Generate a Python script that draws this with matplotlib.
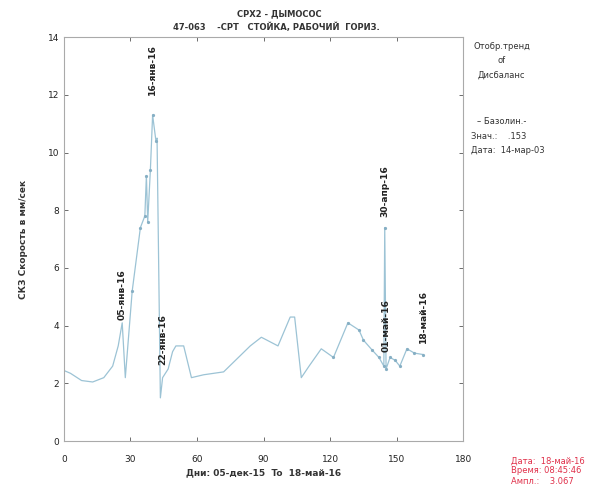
import matplotlib
matplotlib.use("Agg")
import matplotlib.pyplot as plt

plt.rcParams['font.family'] = ['DejaVu Sans']

# data (day index from start, velocity mm/s)
days = [0, 3, 8, 13, 18, 22, 24.5, 26.3, 27.7, 30.8, 34.5, 36.5, 37.2, 37.8, 39, 40,
        41.5, 42, 43.5, 44.5, 47, 49, 50.5, 54, 57.5, 63, 72, 80, 84, 89, 96.5, 102,
        104, 107, 110.5, 116, 121.5, 128, 133, 135, 139, 142, 144.2, 144.6, 145.2,
        147, 149.3, 151.4, 154.6, 158, 162]
values = [2.45, 2.35, 2.1, 2.05, 2.2, 2.6, 3.3, 4.1, 2.2, 5.2, 7.4, 7.8, 9.2, 7.6, 9.4, 11.3,
          10.4, 10.5, 1.5, 2.2, 2.5, 3.1, 3.3, 3.3, 2.2, 2.3, 2.4, 3.0, 3.3, 3.6, 3.3, 4.3,
          4.3, 2.2, 2.6, 3.2, 2.9, 4.1, 3.85, 3.5, 3.15, 2.9, 2.6, 7.4, 2.5,
          2.9, 2.8, 2.6, 3.2, 3.05, 3.0]

ann_days = [26.3, 40, 44.5, 144.6, 145.2, 162]
ann_vals = [4.1, 11.3, 2.2, 7.4, 2.5, 3.0]
ann_labels = ["05-янв-16", "16-янв-16", "22-янв-16", "30-апр-16", "01-май-16", "18-май-16"]
ann_offsets = [0.1, 0.7, 0.45, 0.35, 0.6, 0.4]

xticks = [0, 30, 60, 90, 120, 150, 180]
yticks = [0, 2, 4, 6, 8, 10, 12, 14]

fig = plt.figure(figsize=(6.08, 4.88), dpi=100)
ax = fig.add_axes([0.105, 0.096, 0.657, 0.828])

ax.plot(days, values, color='#9cc3d5', lw=0.9)
ax.plot(days[9:17], values[9:17], color='#86afc4', marker='o', ms=1.3, ls='none')
ax.plot(days[36:], values[36:], color='#86afc4', marker='o', ms=1.3, ls='none')

for d, v, lab, off in zip(ann_days, ann_vals, ann_labels, ann_offsets):
    ax.text(d, v + off, lab, rotation=90, ha='center', va='bottom',
            fontsize=6.6, fontweight='bold', color='#222222')

ax.set_xlim(0, 180)
ax.set_ylim(0, 14)
ax.set_xticks(xticks)
ax.set_yticks(yticks)
ax.tick_params(direction='in', length=3, width=0.6, labelsize=6.5, colors='#555555',
               top=True, right=True, labelcolor='#222222')
ax.tick_params(axis='x', pad=10)
for s in ax.spines.values():
    s.set_color('#aaaaaa')
    s.set_linewidth(0.8)

ax.set_ylabel("СКЗ Скорость в мм/сек", fontsize=6.5, fontweight='bold', color='#333333', labelpad=14)
ax.set_xlabel("Дни: 05-дек-15  To  18-май-16", fontsize=6.5, fontweight='bold', color='#333333', labelpad=3)

fig.text(0.46, 0.972, "СРХ2 - ДЫМОСОС", ha='center', va='center', fontsize=6, fontweight='bold', color='#333333')
fig.text(0.455, 0.944, "47-063    -СРТ   СТОЙКА, РАБОЧИЙ  ГОРИЗ.", ha='center', va='center',
         fontsize=6, fontweight='bold', color='#333333')

rx = 0.825
fig.text(rx, 0.904, "Отобр.тренд", ha='center', va='center', fontsize=6, color='#333333')
fig.text(rx, 0.876, "of", ha='center', va='center', fontsize=6, color='#333333')
fig.text(rx, 0.846, "Дисбаланс", ha='center', va='center', fontsize=6, color='#333333')
fig.text(rx, 0.752, "– Базолин.-", ha='center', va='center', fontsize=6, color='#333333')
fig.text(0.775, 0.720, "Знач.:    .153", ha='left', va='center', fontsize=6, color='#333333')
fig.text(0.775, 0.692, "Дата:  14-мар-03", ha='left', va='center', fontsize=6, color='#333333')

fig.text(0.84, 0.055, "Дата:  18-май-16", ha='left', va='center', fontsize=6, color='#e0304a')
fig.text(0.84, 0.035, "Время: 08:45:46", ha='left', va='center', fontsize=6, color='#e0304a')
fig.text(0.84, 0.014, "Ампл.:    3.067", ha='left', va='center', fontsize=6, color='#e0304a')

fig.savefig("out.png", dpi=100)
